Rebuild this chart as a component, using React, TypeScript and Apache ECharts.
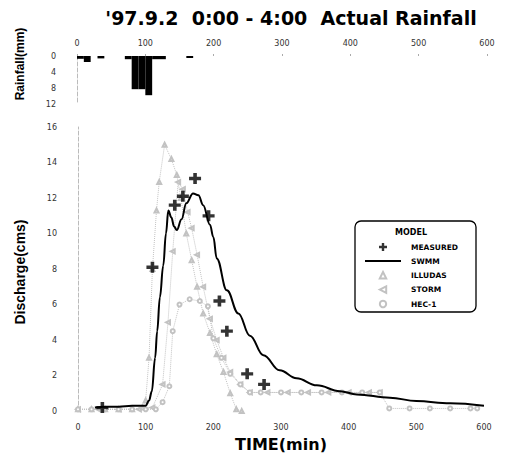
import React, { useEffect, useRef } from 'react';
import * as echarts from 'echarts';

// Rainfall hyetograph (10-min blocks)
const rainStart = [0, 10, 30, 70, 80, 90, 100, 110, 120, 160];
const rainDepth = [0.7, 1.5, 0.6, 0.8, 8.3, 8.3, 9.8, 0.8, 0.8, 0.5];
const rainStep = 10;

// Measured discharge
const measuredTime = [36, 110, 143, 155, 173, 193, 209, 220, 250, 275];
const measuredQ = [0.2, 8.1, 11.6, 12.1, 13.1, 11.0, 6.2, 4.5, 2.1, 1.5];

// SWMM
const swmmTime = [25, 40, 60, 80, 100, 105, 109, 114, 117, 121, 126, 130, 133.5, 138, 142, 146, 153, 160, 170, 178, 185, 195, 200, 205, 220, 237, 254, 274, 298, 323, 353, 387, 412, 461, 500, 550, 600];
const swmmQ = [0.2, 0.25, 0.25, 0.3, 0.3, 0.6, 1.1, 3.0, 4.5, 6.4, 8.2, 10.0, 11.3, 10.9, 10.4, 10.2, 10.8, 11.7, 12.25, 12.15, 11.6, 10.5, 9.8, 8.6, 6.8, 5.5, 4.25, 3.15, 2.3, 1.85, 1.45, 1.12, 0.94, 0.75, 0.57, 0.44, 0.3];

// ILLUDAS
const illudasTime = [0, 20, 40, 60, 80, 95, 100, 105, 110, 116, 120, 128, 138, 146, 152, 160, 168, 176, 185, 195, 205, 215, 225, 234, 242];
const illudasQ = [0.1, 0.1, 0.1, 0.1, 0.1, 0.2, 0.6, 3, 8, 11.3, 12.9, 15, 14.2, 13.3, 12, 10, 8.5, 7, 5.5, 4.4, 3.2, 2.2, 1, 0.1, 0];

// STORM
const stormTime = [0, 30, 60, 90, 110, 125, 133, 140, 148, 155, 162, 168, 176, 185, 195, 205, 215, 225, 240, 254, 280, 310, 340, 370, 400, 430, 446];
const stormQ = [0.1, 0.1, 0.1, 0.1, 0.2, 1.5, 5, 9, 12.9, 12.5, 11.2, 10.3, 8.8, 7, 5.2, 4, 3, 2.2, 1.5, 1.05, 1.05, 1.05, 1.05, 1.05, 1.05, 1.05, 1.05];

// HEC-1
const hecTime = [0, 20, 40, 60, 80, 100, 115, 125, 135, 140, 150, 165, 180, 192, 200, 212, 225, 240, 254, 270, 300, 330, 360, 390, 420, 446, 460, 490, 520, 550, 580, 590];
const hecQ = [0.1, 0.1, 0.1, 0.1, 0.1, 0.1, 0.1, 0.5, 1.4, 4.5, 6, 6.3, 6.2, 5.9, 4.1, 3, 2.1, 1.5, 1.05, 1.05, 1.05, 1.05, 1.05, 1.05, 1.05, 1.05, 0.15, 0.15, 0.15, 0.15, 0.15, 0.15];

const zip = (a: number[], b: number[]) => a.map((v, i) => [v, b[i]]);

const GRAY = '#c2c2c2';
const CROSS = 'path://M2.8,0H5.2V2.8H8V5.2H5.2V8H2.8V5.2H0V2.8H2.8Z';
const FONT = 'DejaVu Sans';

export default function App() {
  const ref = useRef<HTMLDivElement>(null);
  useEffect(() => {
    document.body.style.margin = '0';
    if (!ref.current) return;
    const chart = echarts.init(ref.current, null, { renderer: 'svg' });
    const tickLabel = { fontSize: 8, color: '#333', fontFamily: FONT };
    chart.setOption({
      animation: false,
      backgroundColor: '#fff',
      title: {
        text: "'97.9.2  0:00 - 4:00  Actual Rainfall",
        left: 286,
        top: 3,
        textAlign: 'center',
        textStyle: { fontSize: 19, fontWeight: 'bold', color: '#000', fontFamily: FONT },
      },
      grid: [
        { left: 77, right: 20, top: 56, height: 48 },
        { left: 78, right: 23, top: 127, height: 290 },
      ],
      xAxis: [
        {
          gridIndex: 0, type: 'value', position: 'top', min: 0, max: 600, interval: 100,
          axisLine: { show: false },
          axisTick: { show: true, length: 2, lineStyle: { color: '#aaa' } },
          axisLabel: { ...tickLabel, margin: 9 },
          splitLine: { show: false },
        },
        {
          gridIndex: 1, type: 'value', min: 0, max: 600, interval: 100,
          axisLine: { show: false }, axisTick: { show: false },
          axisLabel: { ...tickLabel, margin: 12 },
          splitLine: { show: false },
          name: 'TIME(min)', nameLocation: 'middle', nameGap: 13,
          nameTextStyle: { fontSize: 16, fontWeight: 'bold', color: '#000', fontFamily: FONT },
        },
      ],
      yAxis: [
        {
          gridIndex: 0, type: 'value', inverse: true, min: 0, max: 12, interval: 4,
          axisLine: { show: true, lineStyle: { color: '#bbb', type: 'dashed' } },
          axisTick: { show: false },
          axisLabel: { ...tickLabel, margin: 21 },
          splitLine: { show: false },
        },
        {
          gridIndex: 1, type: 'value', min: 0, max: 16, interval: 2,
          axisLine: { show: true, lineStyle: { color: '#bbb', type: 'dashed' } },
          axisTick: { show: false },
          axisLabel: { ...tickLabel, margin: 21 },
          splitLine: { show: false },
        },
      ],
      legend: {
        orient: 'vertical', left: 364, top: 243, itemWidth: 36, itemHeight: 8, itemGap: 6,
        padding: 0,
        textStyle: { fontSize: 7.5, fontWeight: 'bold', color: '#000', fontFamily: FONT, padding: [0, 0, 0, 5] },
        data: [
          { name: 'MEASURED' },
          { name: 'SWMM', itemStyle: { opacity: 0 } },
          { name: 'ILLUDAS', lineStyle: { color: 'rgba(0,0,0,0)' } },
          { name: 'STORM', lineStyle: { color: 'rgba(0,0,0,0)' } },
          { name: 'HEC-1', lineStyle: { color: 'rgba(0,0,0,0)' } },
        ],
      },
      graphic: [
        { type: 'rect', shape: { x: 355, y: 221, width: 121, height: 91, r: 6 }, style: { fill: 'none', stroke: '#000', lineWidth: 1.3 }, z: 10 },
        { type: 'text', x: 411, y: 232, style: { text: 'MODEL', fontSize: 8, fontWeight: 'bold', fill: '#000', align: 'center', verticalAlign: 'middle', fontFamily: FONT }, z: 10 },
        { type: 'text', x: 20, y: 64, rotation: Math.PI / 2, style: { text: 'Rainfall(mm)', fontSize: 12, fontWeight: 'bold', fill: '#000', align: 'center', verticalAlign: 'middle', fontFamily: 'Liberation Sans' } },
        { type: 'text', x: 20, y: 272, rotation: Math.PI / 2, style: { text: 'Discharge(cms)', fontSize: 14, fontWeight: 'bold', fill: '#000', align: 'center', verticalAlign: 'middle', fontFamily: 'Liberation Sans' } },
      ],
      series: [
        {
          type: 'custom', name: 'Rainfall', xAxisIndex: 0, yAxisIndex: 0,
          data: zip(rainStart, rainDepth),
          encode: { x: 0, y: 1 },
          renderItem: (params: any, api: any) => {
            const s = api.value(0);
            const d = api.value(1);
            const p0 = api.coord([s, 0]);
            const p1 = api.coord([s + rainStep, d]);
            return { type: 'rect', shape: { x: p0[0], y: p0[1], width: p1[0] - p0[0], height: p1[1] - p0[1] }, style: { fill: '#000' } };
          },
        },
        {
          type: 'line', name: 'ILLUDAS', xAxisIndex: 1, yAxisIndex: 1,
          data: zip(illudasTime, illudasQ),
          symbol: 'emptyTriangle', symbolSize: 4, showSymbol: true,
          lineStyle: { color: GRAY, width: 1, type: 'dotted' },
          itemStyle: { color: GRAY, borderColor: GRAY, borderWidth: 0.8 },
        },
        {
          type: 'line', name: 'STORM', xAxisIndex: 1, yAxisIndex: 1,
          data: zip(stormTime, stormQ),
          symbol: 'emptyTriangle', symbolRotate: 90, symbolSize: 4, showSymbol: true,
          lineStyle: { color: GRAY, width: 1, type: 'dotted' },
          itemStyle: { color: GRAY, borderColor: GRAY, borderWidth: 0.8 },
        },
        {
          type: 'line', name: 'HEC-1', xAxisIndex: 1, yAxisIndex: 1,
          data: zip(hecTime, hecQ),
          symbol: 'emptyCircle', symbolSize: 4, showSymbol: true,
          lineStyle: { color: GRAY, width: 1, type: 'dotted' },
          itemStyle: { color: GRAY, borderColor: GRAY, borderWidth: 0.8 },
        },
        {
          type: 'line', name: 'SWMM', xAxisIndex: 1, yAxisIndex: 1,
          data: zip(swmmTime, swmmQ),
          symbol: 'none', smooth: 0.4, smoothMonotone: 'x',
          lineStyle: { color: '#000', width: 2 },
          itemStyle: { color: '#000' },
          z: 5,
        },
        {
          type: 'scatter', name: 'MEASURED', xAxisIndex: 1, yAxisIndex: 1,
          data: zip(measuredTime, measuredQ),
          symbol: CROSS, symbolSize: [12, 11],
          itemStyle: { color: '#000' },
          z: 6,
        },
      ],
    });
    return () => chart.dispose();
  }, []);
  return <div ref={ref} style={{ width: 507, height: 457 }} />;
}
